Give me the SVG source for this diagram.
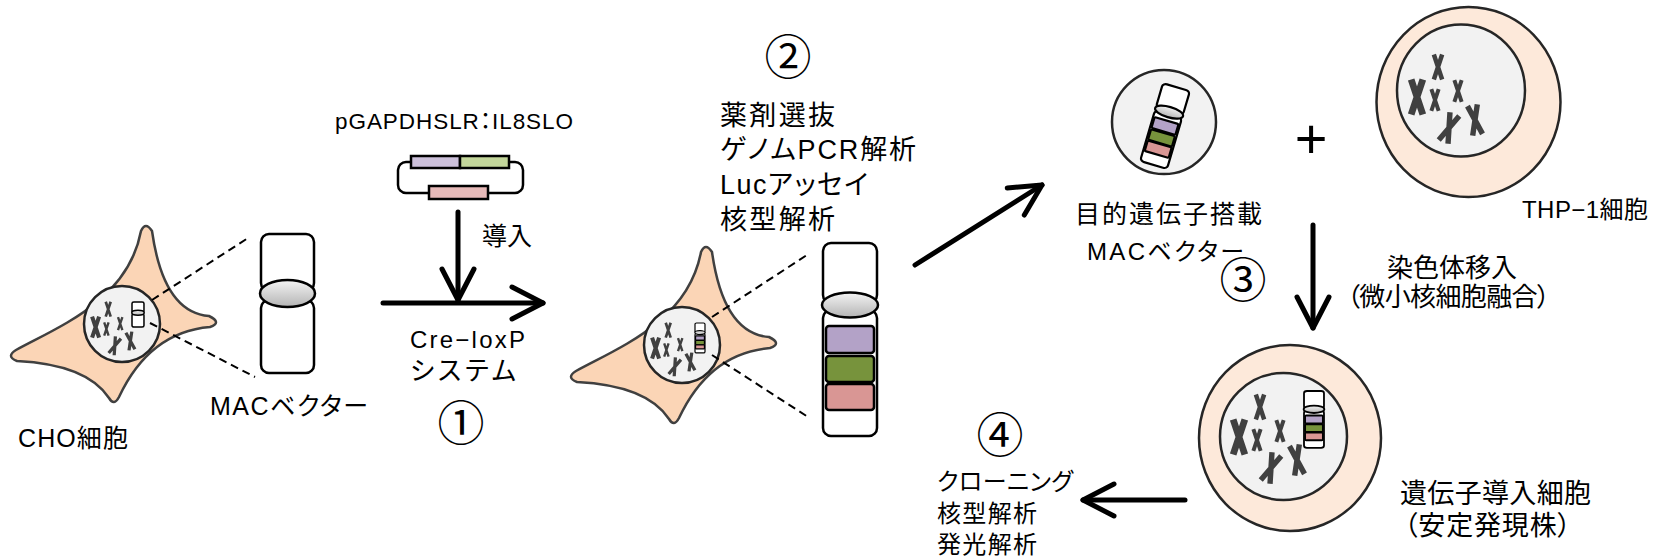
<svg xmlns="http://www.w3.org/2000/svg" xmlns:xlink="http://www.w3.org/1999/xlink" width="1664" height="559" viewBox="0 0 1664 559">
<style>
  text { font-family: "Liberation Sans", "Noto Sans CJK JP", sans-serif; fill: #000; font-feature-settings: "palt"; }
  .num { font-family: "Noto Sans CJK JP", sans-serif; text-anchor: middle; font-feature-settings: normal; }
  .cell { fill: #FBD5B6; stroke: #404040; stroke-width: 2.5; stroke-linejoin: round; }
  .nuc { fill: #F2F2F2; stroke: #262626; stroke-width: 2.5; }
  .round { fill: #FDE9DA; stroke: #262626; stroke-width: 2.5; }
  .chx { fill: none; stroke: #404040; stroke-width: 5.4; }
  .arm { fill: #fff; stroke: #000; vector-effect: non-scaling-stroke; }
  .cen { fill: url(#cenGrad); stroke: #000; vector-effect: non-scaling-stroke; }
  .bP { fill: #B3A2C7; stroke: #000; vector-effect: non-scaling-stroke; }
  .bG { fill: #77933C; stroke: #000; vector-effect: non-scaling-stroke; }
  .bR { fill: #D99694; stroke: #000; vector-effect: non-scaling-stroke; }
  .arrow { fill: none; stroke: #000; stroke-width: 5; stroke-linecap: round; marker-end: url(#head); }
  .dash { fill: none; stroke: #000; stroke-width: 2; stroke-dasharray: 8 5; }
  .ring { fill: none; stroke: #000; stroke-width: 2.5; }
</style>
<defs>
  <linearGradient id="cenGrad" x1="0" y1="0" x2="0" y2="1">
    <stop offset="0" stop-color="#F4F4F4"/>
    <stop offset="1" stop-color="#B4B4B4"/>
  </linearGradient>
  <marker id="head" markerUnits="userSpaceOnUse" markerWidth="80" markerHeight="80" viewBox="-40 -40 80 80" refX="0" refY="0" orient="auto" overflow="visible">
    <path d="M-31,-16 L0,0 L-31,16" fill="none" stroke="#000" stroke-width="5" stroke-linecap="round" stroke-linejoin="round"/>
  </marker>
  <!-- star-shaped adherent cell body -->
  <path id="cellShape" d="M16,350 C60,326 128,300 141,231 Q145.5,221 152,231 Q163.5,312.5 209,316 Q222.5,322.5 210,327 Q149.5,332 119,397 Q114,406.5 109,398 Q87,364.5 17,361 Q5.5,356.5 16,350 Z"/>
  <!-- one X-shaped chromosome, 30 units tall -->
  <path id="xc" d="M-5,-15 L5,15 M5,-15 L-5,15"/>
  <!-- chromosome set of a nucleus, relative to the nucleus centre -->
  <g id="xset" class="chx">
    <use href="#xc" transform="translate(-23,-23) scale(0.83)"/>
    <use href="#xc" transform="translate(-44,7) scale(1.17)" style="stroke-width:5.8"/>
    <use href="#xc" transform="translate(-26,10) scale(0.73)"/>
    <use href="#xc" transform="translate(-3,1) scale(0.73)"/>
    <use href="#xc" transform="translate(-12,38) rotate(22)"/>
    <use href="#xc" transform="translate(14,30) rotate(-10)"/>
  </g>
  <!-- MAC vector chromosome -->
  <g id="chrPlain">
    <rect class="arm" x="0" y="0" width="53" height="57" rx="8"/>
    <rect class="arm" x="0" y="66" width="53" height="73" rx="8"/>
    <ellipse class="cen" cx="26.5" cy="59.5" rx="27.5" ry="13.5"/>
  </g>
  <!-- MAC vector carrying the three inserted genes -->
  <g id="chrBand">
    <rect class="arm" x="0" y="0" width="54" height="60" rx="8"/>
    <rect class="arm" x="0" y="67" width="54" height="126" rx="8"/>
    <rect class="bP" x="3" y="83" width="48" height="27" rx="3"/>
    <rect class="bG" x="3" y="113" width="48" height="26" rx="3"/>
    <rect class="bR" x="3" y="141" width="48" height="26" rx="3"/>
    <ellipse class="cen" cx="27" cy="62" rx="28" ry="12.5"/>
  </g>
</defs>

<!-- CHO cell with MAC vector -->
<g id="cho-cell">
  <use href="#cellShape" class="cell"/>
  <circle class="nuc" cx="122" cy="324" r="38"/>
  <use href="#xset" transform="translate(122,323) scale(0.6)"/>
  <use href="#chrPlain" transform="translate(132,302) scale(0.226,0.18)" style="stroke-width:1.5"/>
  <text x="18" y="447" font-size="25" textLength="110">CHO細胞</text>
</g>

<g id="mac-vector">
  <use href="#chrPlain" transform="translate(261,234)" style="stroke-width:2.5"/>
  <text x="210" y="415" font-size="25" textLength="158">MACベクター</text>
</g>

<!-- targeting plasmid -->
<g id="plasmid">
  <text x="335" y="129" font-size="22.5" textLength="238">pGAPDHSLR：IL8SLO</text>
  <rect class="ring" x="398" y="162" width="125" height="31" rx="8"/>
  <rect x="411" y="156" width="49" height="12" fill="#CCC0DA" stroke="#000" stroke-width="2.5"/>
  <rect x="460" y="156" width="49" height="12" fill="#C3D69B" stroke="#000" stroke-width="2.5"/>
  <rect x="429" y="186" width="59" height="13" fill="#E6B9B8" stroke="#000" stroke-width="2.5"/>
</g>

<!-- CHO cell after recombination -->
<g id="cho-recombinant">
  <use href="#cellShape" class="cell" transform="translate(560,21)"/>
  <circle class="nuc" cx="682" cy="345" r="38"/>
  <use href="#xset" transform="translate(682,344) scale(0.6)"/>
  <use href="#chrBand" transform="translate(695,323) scale(0.185,0.155)" style="stroke-width:1.2"/>
</g>

<g id="mac-gene">
  <use href="#chrBand" transform="translate(823,243)" style="stroke-width:2.5"/>
</g>

<g id="step2-label">
  <text class="num" x="788" y="73.5" font-size="47">②</text>
  <text x="720" y="125" font-size="27" textLength="115">薬剤選抜</text>
  <text x="720" y="159" font-size="27" textLength="196">ゲノムPCR解析</text>
  <text x="720" y="194" font-size="27" textLength="148">Lucアッセイ</text>
  <text x="720" y="229" font-size="27" textLength="115">核型解析</text>
</g>

<!-- donor: microcell carrying the gene-loaded MAC -->
<g id="mac-donor">
  <circle class="nuc" cx="1164" cy="122" r="52"/>
  <use href="#chrBand" transform="translate(1165,126) rotate(16.4) translate(-14,-40.5) scale(0.519,0.42)" style="stroke-width:2.2"/>
  <text x="1075" y="223" font-size="25" textLength="187">目的遺伝子搭載</text>
  <text x="1087" y="260" font-size="24" textLength="157">MACベクター</text>
</g>

<g id="plus">
  <text x="1311" y="158" font-size="56" text-anchor="middle">+</text>
</g>

<!-- recipient THP-1 cell -->
<g id="thp1">
  <ellipse class="round" cx="1468.5" cy="102" rx="92" ry="95"/>
  <ellipse class="nuc" cx="1461" cy="90.5" rx="64" ry="66"/>
  <use href="#xset" transform="translate(1461,90)"/>
  <text x="1522" y="218" font-size="24" textLength="126">THP−1細胞</text>
</g>

<g id="step3-label">
  <text class="num" x="1243" y="296.5" font-size="47">③</text>
  <text x="1387" y="277" font-size="26" textLength="130">染色体移入</text>
  <text x="1347" y="306" font-size="26" textLength="203">（微小核細胞融合）</text>
</g>

<!-- transfected THP-1 cell -->
<g id="stable-line">
  <ellipse class="round" cx="1290" cy="438" rx="91" ry="93"/>
  <ellipse class="nuc" cx="1283.5" cy="436.5" rx="63.5" ry="63.5"/>
  <use href="#xset" transform="translate(1283,430)"/>
  <use href="#chrBand" transform="translate(1304,391) scale(0.37,0.295)" style="stroke-width:1.8"/>
  <text x="1400" y="503" font-size="27" textLength="191">遺伝子導入細胞</text>
  <text x="1404" y="535" font-size="27" textLength="167">（安定発現株）</text>
</g>

<g id="step4-label">
  <text class="num" x="1000" y="451.5" font-size="47">④</text>
  <text x="937" y="490" font-size="24" textLength="136">クローニング</text>
  <text x="937" y="522" font-size="24" textLength="100">核型解析</text>
  <text x="937" y="553" font-size="24" textLength="100">発光解析</text>
</g>

<g id="step1-label">
  <text x="482" y="245" font-size="25" textLength="50">導入</text>
  <text x="410" y="348" font-size="24" textLength="115">Cre−loxP</text>
  <text x="410" y="380" font-size="26" textLength="106">システム</text>
  <text class="num" x="461" y="439.5" font-size="47">①</text>
</g>

<g id="connectors">
  <line class="dash" x1="152" y1="300" x2="248" y2="238"/>
  <line class="dash" x1="150" y1="323" x2="255" y2="377"/>
  <line class="dash" x1="712" y1="317" x2="810" y2="253"/>
  <line class="dash" x1="712" y1="355" x2="808" y2="417"/>
  <line class="arrow" x1="458" y1="212" x2="458" y2="300"/>
  <line class="arrow" x1="383" y1="303" x2="543" y2="303"/>
  <line class="arrow" x1="915" y1="265" x2="1042" y2="185"/>
  <line class="arrow" x1="1313" y1="225" x2="1313" y2="328"/>
  <line class="arrow" x1="1185" y1="500" x2="1083" y2="500"/>
</g>
</svg>
